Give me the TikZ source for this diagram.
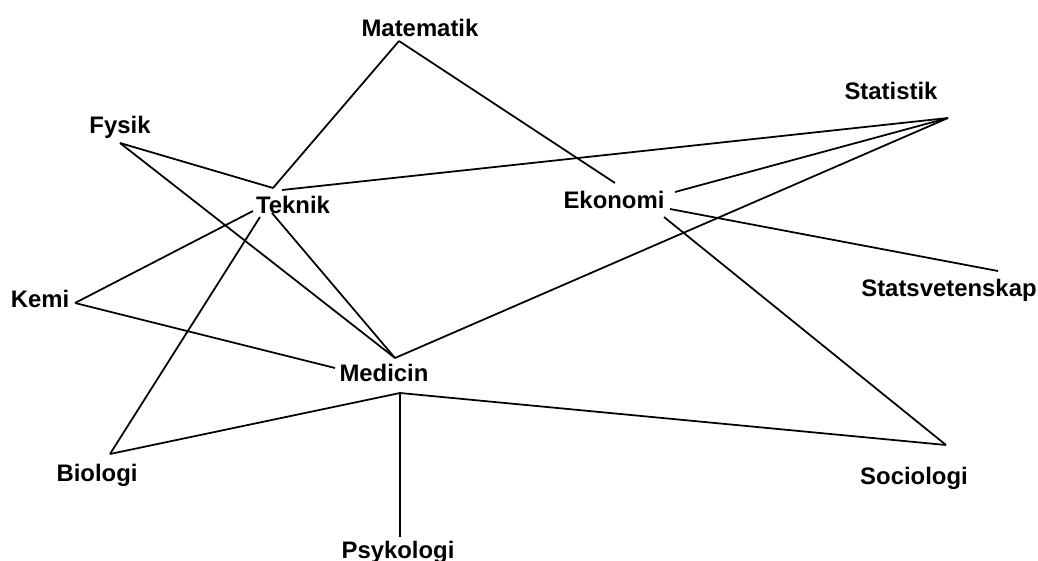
\documentclass[tikz,border=0pt]{standalone}
\usepackage{fontspec}
\setmainfont{Liberation Sans}

\tikzset{
	subject/.style={anchor=base,inner sep=0pt,font=\bfseries\fontsize{13.6}{16}\selectfont},
	link/.style={line width=1pt}
}

\begin{document}
\begin{tikzpicture}[x=0.02cm,y=-0.02cm]

	\useasboundingbox (0,0) rectangle (1038,561);
%	\draw[step=50,gray,very thin] (0,0) grid (1038,561);

	\node[subject] (mat) at (420,36) {Matematik};
	\node[subject] (fys) at (120,133) {Fysik};
	\node[subject] (tek) at (293,213) {Teknik};
	\node[subject] (eko) at (614,208) {Ekonomi};
	\node[subject] (sta) at (891,99) {Statistik};
	\node[subject] (ssv) at (949,296) {Statsvetenskap};
	\node[subject] (kem) at (40,307) {Kemi};
	\node[subject] (med) at (384,381) {Medicin};
	\node[subject] (bio) at (97,481) {Biologi};
	\node[subject] (soc) at (914,484) {Sociologi};
	\node[subject] (psy) at (398,558) {Psykologi};

	% where the lines meet the words
	\coordinate (mat-s) at (399,41);
	\coordinate (fys-s) at (120,143);
	\coordinate (tek-n) at (273,188);
	\coordinate (tek-e) at (282,190);
	\coordinate (tek-w) at (253,211);
	\coordinate (tek-sw) at (260,217);
	\coordinate (tek-se) at (272,213);
	\coordinate (eko-n) at (615,183);
	\coordinate (eko-ne) at (675,192);
	\coordinate (eko-e) at (670,209);
	\coordinate (eko-s) at (664,217);
	\coordinate (sta-s) at (948,118);
	\coordinate (ssv-w) at (998,271);
	\coordinate (soc-n) at (946,445);
	\coordinate (kem-e) at (75,303);
	\coordinate (med-n) at (395,358);
	\coordinate (med-w) at (335,368);
	\coordinate (med-s) at (400,393);
	\coordinate (bio-n) at (110,454);
	\coordinate (psy-n) at (400,537);

	\draw[link] (mat-s) -- (tek-n);
	\draw[link] (mat-s) -- (eko-n);
	\draw[link] (fys-s) -- (tek-n);
	\draw[link] (fys-s) -- (med-n);
	\draw[link] (tek-e) -- (sta-s);
	\draw[link] (tek-w) -- (kem-e);
	\draw[link] (tek-sw) -- (bio-n);
	\draw[link] (tek-se) -- (med-n);
	\draw[link] (eko-ne) -- (sta-s);
	\draw[link] (sta-s) -- (med-n);
	\draw[link] (eko-e) -- (ssv-w);
	\draw[link] (eko-s) -- (soc-n);
	\draw[link] (kem-e) -- (med-w);
	\draw[link] (med-s) -- (bio-n);
	\draw[link] (med-s) -- (psy-n);
	\draw[link] (med-s) -- (soc-n);

\end{tikzpicture}
\end{document}
